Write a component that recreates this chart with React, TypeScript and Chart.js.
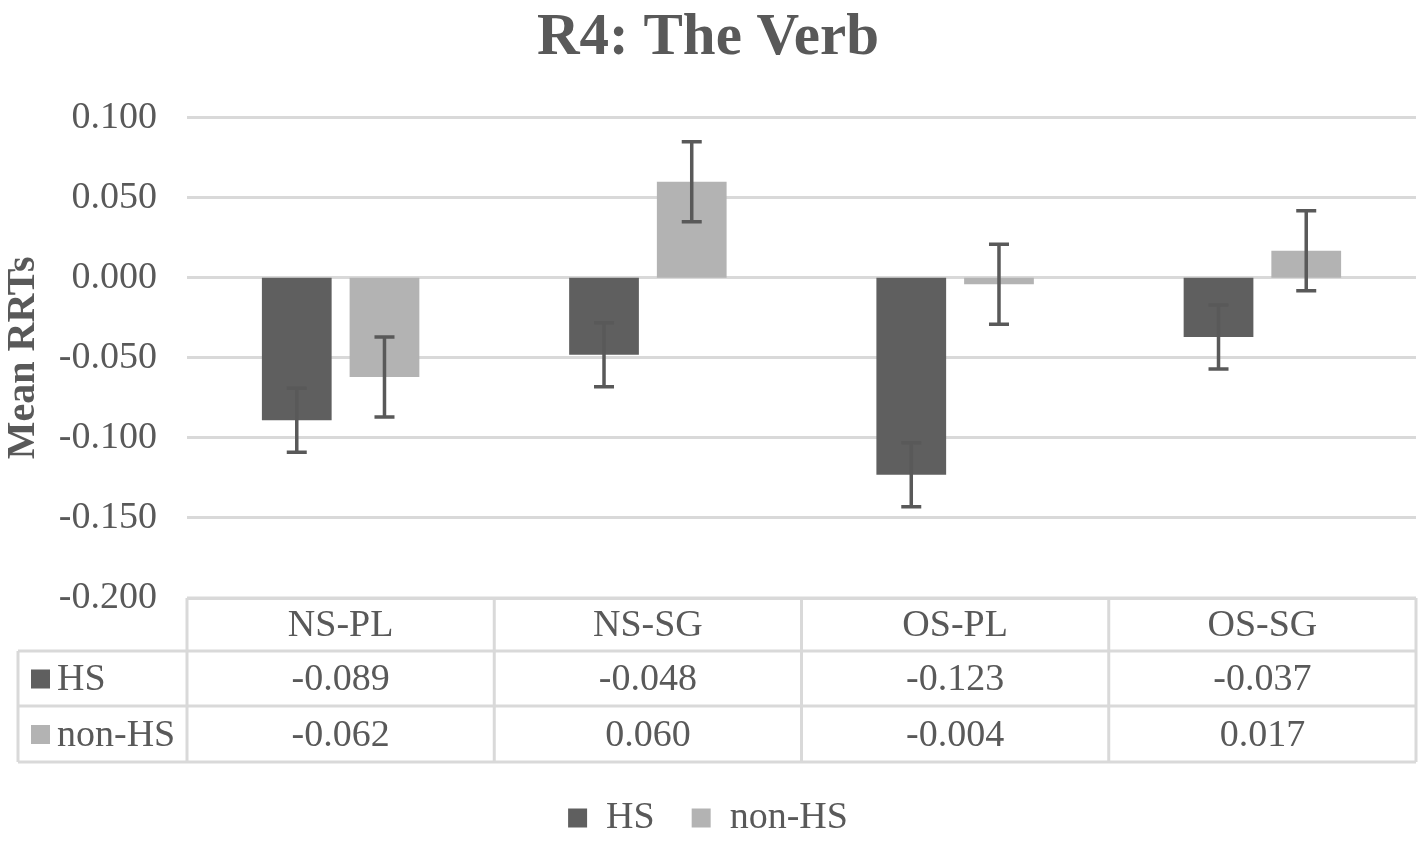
import { useEffect, useRef } from "react";
import { Chart, registerables } from "chart.js";

Chart.register(...registerables);

const categories = ["NS-PL", "NS-SG", "OS-PL", "OS-SG"];
const seriesNames = ["HS", "non-HS"];
const hsValues = [-0.089, -0.048, -0.123, -0.037];
const nonHsValues = [-0.062, 0.06, -0.004, 0.017];
const hsErrors = [0.02, 0.02, 0.02, 0.02];
const nonHsErrors = [0.025, 0.025, 0.025, 0.025];

const DARK = "#5f5f5f";
const LIGHT = "#b3b3b3";
const TEXT = "#595959";
const GRID = "#d9d9d9";
const FONT = "'Liberation Serif', 'Times New Roman', serif";

// error bars drawn on top of each bar
const errorBars = {
  id: "errorBars",
  afterDatasetsDraw(chart: Chart) {
    const ctx = chart.ctx;
    const y = chart.scales.y;
    const errs = [hsErrors, nonHsErrors];
    ctx.save();
    ctx.strokeStyle = TEXT;
    ctx.lineWidth = 3.5;
    chart.data.datasets.forEach((ds, di) => {
      const meta = chart.getDatasetMeta(di);
      meta.data.forEach((bar: any, i) => {
        const v = ds.data[i] as number;
        const top = y.getPixelForValue(v + errs[di][i]);
        const bot = y.getPixelForValue(v - errs[di][i]);
        const x = bar.x;
        ctx.beginPath();
        ctx.moveTo(x, top);
        ctx.lineTo(x, bot);
        ctx.moveTo(x - 10, top);
        ctx.lineTo(x + 10, top);
        ctx.moveTo(x - 10, bot);
        ctx.lineTo(x + 10, bot);
        ctx.stroke();
      });
    });
    ctx.restore();
  },
};

// Excel-like data table under the plot
const dataTable = {
  id: "dataTable",
  afterDraw(chart: Chart) {
    const ctx = chart.ctx;
    const xs = chart.scales.x;
    const { left, right, bottom } = chart.chartArea;
    const tableLeft = 18;
    const r0 = bottom;
    const r1 = r0 + 53;
    const r2 = r1 + 55;
    const r3 = r2 + 56;
    const half = (xs.getPixelForValue(1) - xs.getPixelForValue(0)) / 2;

    ctx.save();
    ctx.strokeStyle = GRID;
    ctx.lineWidth = 3;
    ctx.beginPath();
    ctx.moveTo(left, r0);
    ctx.lineTo(right, r0);
    [r1, r2, r3].forEach((r) => {
      ctx.moveTo(tableLeft, r);
      ctx.lineTo(right, r);
    });
    ctx.moveTo(tableLeft, r1);
    ctx.lineTo(tableLeft, r3);
    categories.forEach((_, i) => {
      const b = xs.getPixelForValue(i) - half;
      ctx.moveTo(b, r0);
      ctx.lineTo(b, r3);
    });
    ctx.moveTo(right, r0);
    ctx.lineTo(right, r3);
    ctx.stroke();

    ctx.fillStyle = TEXT;
    ctx.font = `38px ${FONT}`;
    ctx.textBaseline = "middle";
    ctx.textAlign = "center";
    const rows = [hsValues, nonHsValues];
    categories.forEach((c, i) => {
      const cx = xs.getPixelForValue(i);
      ctx.fillText(c, cx, (r0 + r1) / 2 + 2);
      ctx.fillText(rows[0][i].toFixed(3), cx, (r1 + r2) / 2 + 2);
      ctx.fillText(rows[1][i].toFixed(3), cx, (r2 + r3) / 2 + 2);
    });

    ctx.textAlign = "left";
    const colors = [DARK, LIGHT];
    [
      [r1, r2],
      [r2, r3],
    ].forEach(([a, b], k) => {
      const cy = (a + b) / 2;
      ctx.fillStyle = colors[k];
      ctx.fillRect(31, cy - 9, 19, 19);
      ctx.fillStyle = TEXT;
      ctx.fillText(seriesNames[k], 57, cy + 2);
    });
    ctx.restore();
  },
};

const App = () => {
  const canvasRef = useRef<HTMLCanvasElement | null>(null);
  const chartRef = useRef<Chart | null>(null);

  useEffect(() => {
    document.body.style.margin = "0";
    if (!canvasRef.current) return;
    chartRef.current?.destroy();

    chartRef.current = new Chart(canvasRef.current, {
      type: "bar",
      data: {
        labels: categories,
        datasets: [
          {
            label: seriesNames[0],
            data: hsValues,
            backgroundColor: DARK,
            barPercentage: 0.795,
            categoryPercentage: 0.571,
          },
          {
            label: seriesNames[1],
            data: nonHsValues,
            backgroundColor: LIGHT,
            barPercentage: 0.795,
            categoryPercentage: 0.571,
          },
        ],
      },
      options: {
        responsive: false,
        animation: false,
        layout: { padding: { left: 0, right: 5, top: 0, bottom: -5 } },
        plugins: {
          title: {
            display: true,
            text: "R4: The Verb",
            color: TEXT,
            font: { family: FONT, size: 59, weight: "bold" },
            padding: { top: 3, bottom: 44 },
          },
          legend: {
            position: "bottom",
            labels: {
              color: TEXT,
              font: { family: FONT, size: 38 },
              boxWidth: 19,
              boxHeight: 19,
              padding: 37,
            },
          },
          tooltip: { enabled: false },
        },
        scales: {
          x: {
            grid: { display: false },
            border: { display: false },
            ticks: { display: false },
            afterFit(scale: any) {
              scale.height = 164;
            },
          },
          y: {
            min: -0.2,
            max: 0.1,
            grid: { color: GRID, lineWidth: 3, drawTicks: false },
            border: { display: false },
            ticks: {
              stepSize: 0.05,
              padding: 30,
              color: TEXT,
              font: { family: FONT, size: 38 },
              callback: (v: any) => Number(v).toFixed(3),
            },
            title: {
              display: true,
              text: "Mean RRTs",
              color: TEXT,
              font: { family: FONT, size: 40, weight: "bold", lineHeight: 1 },
              padding: { top: 4, bottom: 0 },
            },
            afterFit(scale: any) {
              scale.width = 187;
            },
          },
        },
      },
      plugins: [errorBars, dataTable],
    });

    return () => {
      chartRef.current?.destroy();
      chartRef.current = null;
    };
  }, []);

  return (
    <div style={{ width: 1421, height: 842 }}>
      <canvas ref={canvasRef} width="1421" height="842"></canvas>
    </div>
  );
};

export default App;
